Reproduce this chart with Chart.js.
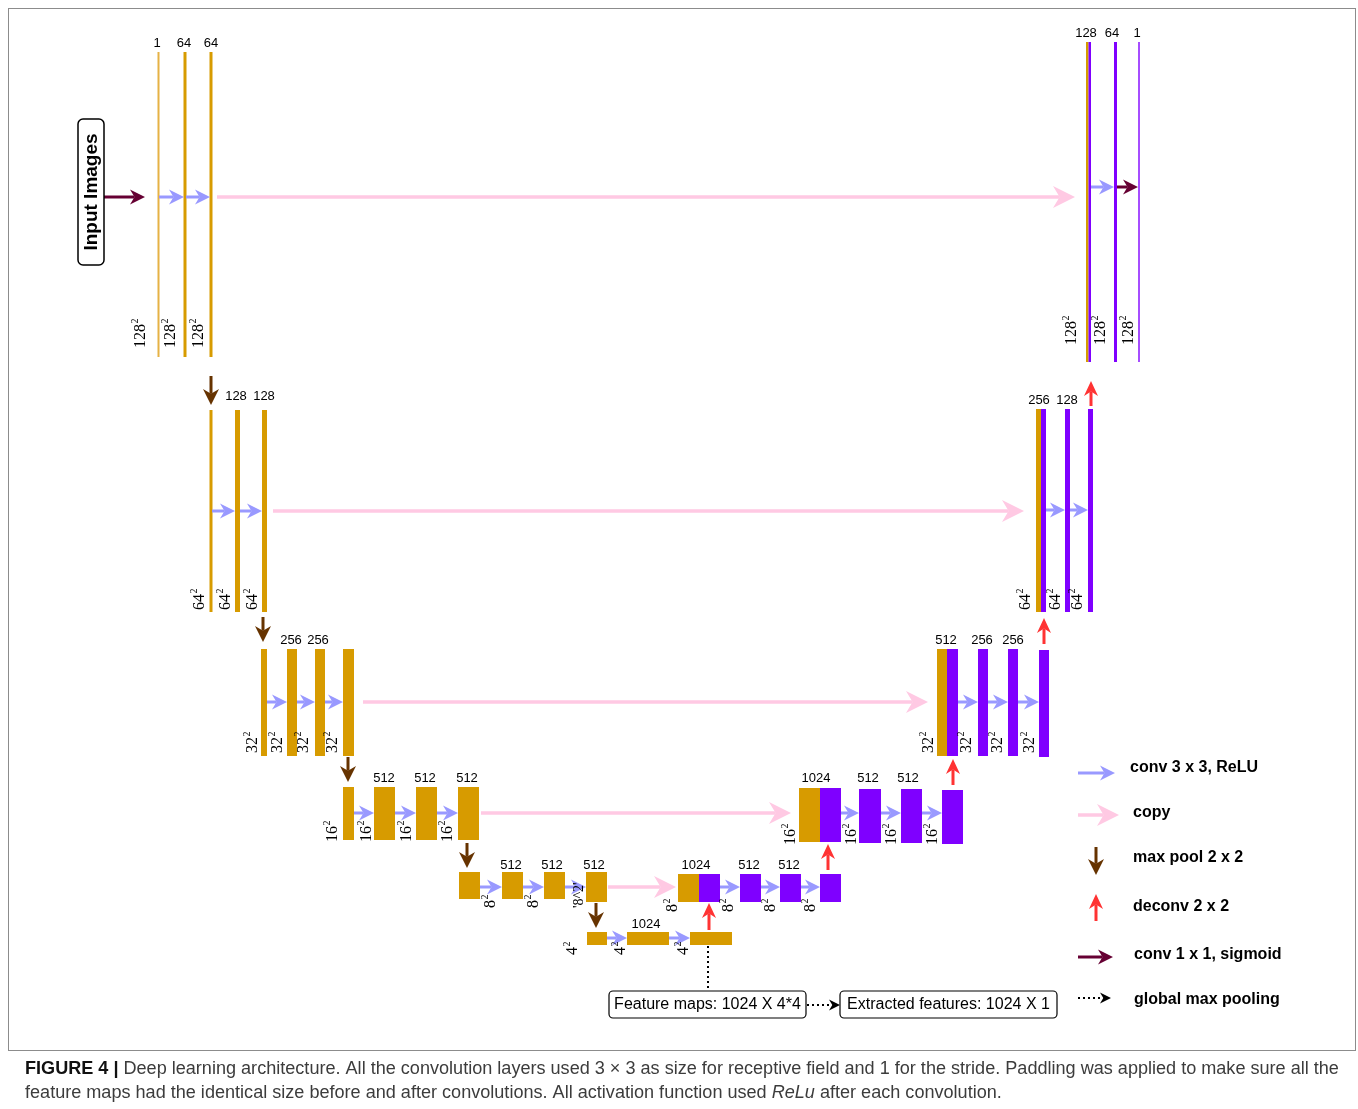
<!DOCTYPE html>
<html>
<head>
<meta charset="utf-8">
<script src="https://cdn.jsdelivr.net/npm/chart.js@4.4.1/dist/chart.umd.min.js"></script>
<style>
  html, body { margin: 0; padding: 0; background: #fff; }
  #wrap { width: 1358px; height: 1109px; }
</style>
</head>
<body>
<div id="wrap"><canvas id="unet" width="1358" height="1109"></canvas></div>
<script>
// channel counts written above each feature map (encoder / decoder, by level)
const encChannels = [['1', '64', '64'], ['128', '128'], ['256', '256'], ['512', '512', '512'], ['512', '512', '512'], ['1024']];
const decChannels = [['128', '64', '1'], ['256', '128'], ['512', '256', '256'], ['1024', '512', '512'], ['1024', '512', '512']];

// spatial size labels (printed as N^2)
const encSizes = [['128', '128', '128'], ['64', '64', '64'], ['32', '32', '32', '32'], ['16', '16', '16', '16'], ['8', '8', "'8^2'"], ['4', '4', '4']];
const decSizes = [['128', '128', '128'], ['64', '64', '64'], ['32', '32', '32', '32'], ['16', '16', '16', '16'], ['8', '8', '8', '8']];

const legendLabels = ['conv 3 x 3, ReLU', 'copy', 'max pool 2 x 2', 'deconv 2 x 2', 'conv 1 x 1, sigmoid', 'global max pooling'];
const boxLabels = ['Feature maps: 1024 X 4*4', 'Extracted features: 1024 X 1'];

// ---- layout (diagram coordinates, same units as the hidden axes) ----
const encChannelX = [[157, 184, 211], [236, 264], [291, 318], [384, 425, 467], [511, 552, 594], [646]];
const encChannelY = [43, 396, 640, 778, 865, 924];
const decChannelX = [[1086, 1112, 1137], [1039, 1067], [946, 982, 1013], [816, 868, 908], [696, 749, 789]];
const decChannelY = [33, 400, 640, 778, 865];

const encSizeX = [[140, 170, 198], [199, 225, 252], [252, 277, 303, 332], [332, 366, 406, 447], [490, 533, 579], [572, 620, 683]];
const encSizeBottom = [348, 610, 753, 842, 908, 955];
const decSizeX = [[1071, 1100, 1128], [1025, 1055, 1077], [928, 966, 997, 1029], [790, 851, 891, 932], [672, 728, 770, 810]];
const decSizeBottom = [345, 610, 753, 845, 912];

// feature map blocks: [x0, x1, yTop, yBottom, kind]
const blocks = [
  [157.5, 159.5, 52, 357, 'lo'], [183.5, 186.5, 52, 357, 'o'], [209.5, 212.5, 52, 357, 'o'],
  [1086, 1088.5, 42, 362, 'o'], [1088.5, 1091, 42, 362, 'p'], [1114, 1117, 42, 362, 'p'], [1138, 1140, 42, 362, 'lp'],
  [209.5, 212.5, 410, 612, 'o'], [235, 240, 410, 612, 'o'], [262, 267, 410, 612, 'o'],
  [1036, 1041, 409, 612, 'o'], [1041, 1046, 409, 612, 'p'], [1065, 1070, 409, 612, 'p'], [1088, 1093, 409, 612, 'p'],
  [261, 267, 649, 756, 'o'], [287, 297, 649, 756, 'o'], [315, 325, 649, 756, 'o'], [343, 354, 649, 756, 'o'],
  [937, 947, 649, 756, 'o'], [947, 958, 649, 756, 'p'], [978, 988, 649, 756, 'p'], [1008, 1018, 649, 756, 'p'], [1039, 1049, 650, 757, 'p'],
  [343, 354, 787, 840, 'o'], [374, 395, 787, 840, 'o'], [416, 437, 787, 840, 'o'], [458, 479, 787, 840, 'o'],
  [799, 820, 788, 842, 'o'], [820, 841, 788, 842, 'p'], [859, 881, 789, 843, 'p'], [901, 922, 789, 843, 'p'], [942, 963, 790, 844, 'p'],
  [459, 480, 872, 899, 'o'], [502, 523, 872, 899, 'o'], [544, 565, 872, 899, 'o'], [586, 607, 872, 902, 'o'],
  [678, 699, 874, 902, 'o'], [699, 720, 874, 902, 'p'], [740, 761, 874, 902, 'p'], [780, 801, 874, 902, 'p'], [820, 841, 874, 902, 'p'],
  [587, 607, 932, 945, 'o'], [627, 669, 932, 945, 'o'], [690, 732, 932, 945, 'o']
];

// arrows: [x0, y0, x1, y1]
const convArrows = [
  [159, 197, 184, 197], [186, 197, 210, 197], [1091, 187, 1114, 187],
  [212, 511, 235, 511], [240, 511, 262, 511], [1046, 510, 1065, 510], [1070, 510, 1088, 510],
  [267, 702, 287, 702], [297, 702, 315, 702], [325, 702, 343, 702],
  [958, 702, 978, 702], [988, 702, 1008, 702], [1018, 702, 1039, 702],
  [354, 813, 374, 813], [395, 813, 416, 813], [437, 813, 458, 813],
  [841, 813, 859, 813], [881, 813, 901, 813], [922, 813, 942, 813],
  [480, 887, 502, 887], [523, 887, 544, 887], [565, 887, 586, 887],
  [720, 887, 740, 887], [761, 887, 780, 887], [801, 887, 820, 887],
  [607, 938, 627, 938], [669, 938, 690, 938]
];
const copyArrows = [[217, 197, 1075, 197], [273, 511, 1024, 511], [363, 702, 928, 702], [481, 813, 791, 813], [608, 887, 676, 887]];
const poolArrows = [[211, 376, 211, 405], [263, 617, 263, 642], [348, 757, 348, 782], [467, 843, 467, 868], [596, 903, 596, 928]];
const deconvArrows = [[1091, 406, 1091, 381], [1044, 644, 1044, 618], [953, 785, 953, 759], [828, 870, 828, 844], [709, 930, 709, 903]];
const sigmoidArrows = [[104, 197, 145, 197], [1117, 187, 1138, 187]];

const legendArrowY = [773, 815, 860, 907, 957, 998];
const legendTextX = [1130, 1133, 1133, 1133, 1134, 1134];
const legendTextY = [768, 813, 858, 907, 955, 1000];

const colors = { o: '#d79b00', lo: '#e6b245', p: '#7f00ff', lp: '#a64dff' };
const arrowStyles = {
  conv: { color: '#9999ff', lw: 3, L: 15, H: 7.5 },
  copy: { color: '#ffc9e3', lw: 3.5, L: 22, H: 11 },
  pool: { color: '#663300', lw: 3, L: 16, H: 8 },
  deconv: { color: '#ff3333', lw: 3, L: 15, H: 7 },
  sigmoid: { color: '#660033', lw: 3, L: 15, H: 7.5 },
  dotted: { color: '#000000', lw: 2, L: 11, H: 5.5 }
};

function drawArrow(ctx, p0, p1, st, dash, head) {
  const dx = p1[0] - p0[0], dy = p1[1] - p0[1];
  const len = Math.hypot(dx, dy), ux = dx / len, uy = dy / len;
  const nx = -uy, ny = ux;
  const notch = head === false ? 0 : st.L * 0.7;
  ctx.save();
  ctx.strokeStyle = st.color;
  ctx.fillStyle = st.color;
  ctx.lineWidth = st.lw;
  ctx.setLineDash(dash || []);
  ctx.beginPath();
  ctx.moveTo(p0[0], p0[1]);
  ctx.lineTo(p1[0] - ux * notch, p1[1] - uy * notch);
  ctx.stroke();
  ctx.setLineDash([]);
  if (head !== false) {
    const bx = p1[0] - ux * st.L, by = p1[1] - uy * st.L;
    ctx.beginPath();
    ctx.moveTo(p1[0], p1[1]);
    ctx.lineTo(bx + nx * st.H, by + ny * st.H);
    ctx.lineTo(p1[0] - ux * notch, p1[1] - uy * notch);
    ctx.lineTo(bx - nx * st.H, by - ny * st.H);
    ctx.closePath();
    ctx.fill();
  }
  ctx.restore();
}

function drawSize(ctx, cx, bottom, txt) {
  ctx.save();
  ctx.translate(cx, bottom);
  ctx.rotate(-Math.PI / 2);
  ctx.fillStyle = '#000';
  ctx.textAlign = 'left';
  ctx.textBaseline = 'middle';
  if (txt.indexOf('^') >= 0) {
    ctx.font = '14px "Liberation Serif", "Times New Roman", serif';
    ctx.fillText(txt, 0, 0);
  } else {
    ctx.font = '16px "Liberation Serif", "Times New Roman", serif';
    ctx.fillText(txt, 0, 1);
    const w = ctx.measureText(txt).width;
    ctx.font = '10px "Liberation Serif", "Times New Roman", serif';
    ctx.fillText('2', w + 0.5, -5);
  }
  ctx.restore();
}

function roundBox(ctx, x, y, w, h, r) {
  ctx.beginPath();
  ctx.roundRect(x, y, w, h, r);
  ctx.stroke();
}

const diagramPlugin = {
  id: 'unetDiagram',
  afterDraw(chart) {
    const ctx = chart.ctx;
    const xs = chart.scales.x, ys = chart.scales.y;
    const X = v => xs.getPixelForValue(v);
    const Y = v => ys.getPixelForValue(v);
    const P = (a, b) => [X(a), Y(b)];
    const sans = '"Liberation Sans", Arial, Helvetica, sans-serif';

    ctx.save();
    // frame
    ctx.strokeStyle = '#8c8c8c';
    ctx.lineWidth = 1;
    ctx.strokeRect(X(8.5), Y(8.5), X(1355.5) - X(8.5), Y(1050.5) - Y(8.5));

    // arrows behind blocks
    copyArrows.forEach(a => drawArrow(ctx, P(a[0], a[1]), P(a[2], a[3]), arrowStyles.copy));

    // blocks
    blocks.forEach(b => {
      ctx.fillStyle = colors[b[4]];
      ctx.fillRect(X(b[0]), Y(b[2]), X(b[1]) - X(b[0]), Y(b[3]) - Y(b[2]));
    });

    convArrows.forEach(a => drawArrow(ctx, P(a[0], a[1]), P(a[2], a[3]), arrowStyles.conv));
    poolArrows.forEach(a => drawArrow(ctx, P(a[0], a[1]), P(a[2], a[3]), arrowStyles.pool));
    deconvArrows.forEach(a => drawArrow(ctx, P(a[0], a[1]), P(a[2], a[3]), arrowStyles.deconv));
    sigmoidArrows.forEach(a => drawArrow(ctx, P(a[0], a[1]), P(a[2], a[3]), arrowStyles.sigmoid));

    // global max pooling path
    drawArrow(ctx, P(708, 946), P(708, 991), arrowStyles.dotted, [2, 3], false);
    drawArrow(ctx, P(807, 1005), P(840, 1005), arrowStyles.dotted, [2, 3]);

    // channel labels
    ctx.fillStyle = '#000';
    ctx.font = '13px ' + sans;
    ctx.textAlign = 'center';
    ctx.textBaseline = 'middle';
    encChannels.forEach((lvl, i) => lvl.forEach((t, j) => ctx.fillText(t, X(encChannelX[i][j]), Y(encChannelY[i]))));
    decChannels.forEach((lvl, i) => lvl.forEach((t, j) => ctx.fillText(t, X(decChannelX[i][j]), Y(decChannelY[i]))));

    // size labels
    encSizes.forEach((lvl, i) => lvl.forEach((t, j) => drawSize(ctx, X(encSizeX[i][j]), Y(encSizeBottom[i]), t)));
    decSizes.forEach((lvl, i) => lvl.forEach((t, j) => drawSize(ctx, X(decSizeX[i][j]), Y(decSizeBottom[i]), t)));

    // input images box
    ctx.strokeStyle = '#000';
    ctx.lineWidth = 1.5;
    roundBox(ctx, X(78), Y(119), X(104) - X(78), Y(265) - Y(119), 5);
    ctx.save();
    ctx.translate(X(92), Y(192));
    ctx.rotate(-Math.PI / 2);
    ctx.font = 'bold 19px ' + sans;
    ctx.textAlign = 'center';
    ctx.textBaseline = 'middle';
    ctx.fillText('Input Images', 0, 0);
    ctx.restore();

    // feature boxes
    ctx.lineWidth = 1.2;
    roundBox(ctx, X(609), Y(991), X(806) - X(609), Y(1018) - Y(991), 4);
    roundBox(ctx, X(840), Y(991), X(1057) - X(840), Y(1018) - Y(991), 4);
    ctx.font = '16px ' + sans;
    ctx.textAlign = 'center';
    ctx.fillText(boxLabels[0], X(707.5), Y(1005));
    ctx.fillText(boxLabels[1], X(948.5), Y(1005));

    // legend
    drawArrow(ctx, P(1078, legendArrowY[0]), P(1115, legendArrowY[0]), arrowStyles.conv);
    drawArrow(ctx, P(1078, legendArrowY[1]), P(1119, legendArrowY[1]), arrowStyles.copy);
    drawArrow(ctx, P(1096, legendArrowY[2] - 13), P(1096, legendArrowY[2] + 15), arrowStyles.pool);
    drawArrow(ctx, P(1096, legendArrowY[3] + 14), P(1096, legendArrowY[3] - 13), arrowStyles.deconv);
    drawArrow(ctx, P(1078, legendArrowY[4]), P(1113, legendArrowY[4]), arrowStyles.sigmoid);
    drawArrow(ctx, P(1078, legendArrowY[5]), P(1111, legendArrowY[5]), arrowStyles.dotted, [2, 3]);
    ctx.font = 'bold 16px ' + sans;
    ctx.textAlign = 'left';
    legendLabels.forEach((t, i) => ctx.fillText(t, X(legendTextX[i]), Y(legendTextY[i])));

    // caption
    const bold = 'FIGURE 4 |';
    const line1 = ' Deep learning architecture. All the convolution layers used 3 \u00d7 3 as size for receptive field and 1 for the stride. Paddling was applied to make sure all the';
    let fs = 17;
    ctx.font = 'bold ' + fs + 'px ' + sans;
    let w = ctx.measureText(bold).width;
    ctx.font = fs + 'px ' + sans;
    w += ctx.measureText(line1).width;
    fs = fs * (X(1340) - X(25)) / w;
    ctx.textBaseline = 'alphabetic';
    let x = X(25);
    ctx.fillStyle = '#111';
    ctx.font = 'bold ' + fs + 'px ' + sans;
    ctx.fillText(bold, x, Y(1074));
    x += ctx.measureText(bold).width;
    ctx.fillStyle = '#3c3c3c';
    ctx.font = fs + 'px ' + sans;
    ctx.fillText(line1, x, Y(1074));
    const parts = [['feature maps had the identical size before and after convolutions. All activation function used ', ''], ['ReLu', 'italic '], [' after each convolution.', '']];
    x = X(25);
    parts.forEach(p => {
      ctx.font = p[1] + fs + 'px ' + sans;
      ctx.fillText(p[0], x, Y(1098));
      x += ctx.measureText(p[0]).width;
    });
    ctx.restore();
  }
};

new Chart(document.getElementById('unet'), {
  type: 'scatter',
  data: { datasets: [{ data: [], pointRadius: 0 }] },
  options: {
    responsive: false,
    animation: false,
    devicePixelRatio: 1,
    events: [],
    layout: { padding: 0 },
    plugins: { legend: { display: false }, tooltip: { enabled: false } },
    scales: {
      x: { type: 'linear', min: 0, max: 1358, display: false },
      y: { type: 'linear', min: 0, max: 1109, reverse: true, display: false }
    }
  },
  plugins: [diagramPlugin]
});
</script>
</body>
</html>
